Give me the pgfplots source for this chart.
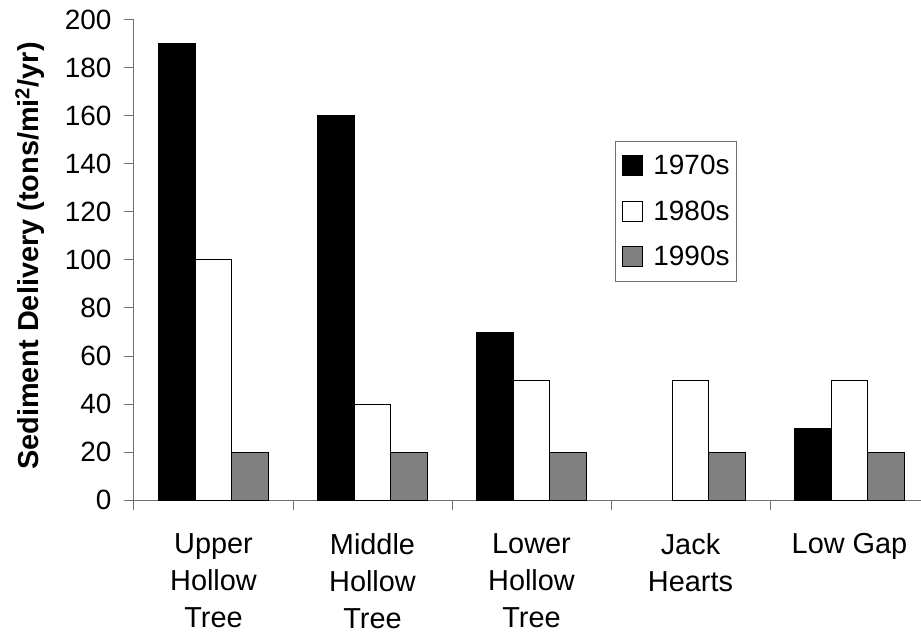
\documentclass[border=0pt]{standalone}
\usepackage{pgfplots}
\pgfplotsset{compat=1.18}
\usepackage{fontspec}
\setmainfont{Liberation Sans}
\definecolor{axgray}{HTML}{707070}
\definecolor{bargray}{HTML}{808080}
\begin{document}
\begin{tikzpicture}
\begin{axis}[
  name=ax,
  scale only axis,
  width=795bp, height=480bp,
  xmin=-0.5, xmax=4.5,
  ymin=0, ymax=200,
  axis x line*=bottom,
  axis y line*=left,
  axis line style={axgray, line width=1bp},
  tick style={axgray, line width=1bp},
  tick align=outside,
  major tick length=10bp,
  ytick={0,20,...,200},
  xtick={-0.5,0.5,1.5,2.5,3.5,4.5},
  x tick label as interval,
  xticklabels={Upper\\Hollow\\Tree, Middle\\Hollow\\Tree, Lower\\Hollow\\Tree, Jack\\Hearts, Low Gap},
  x tick label style={align=center, font=\fontsize{29}{37}\selectfont, yshift=-20bp},
  y tick label style={font=\fontsize{28}{34}\selectfont, xshift=-9bp},
  /pgf/number format/assume math mode=true,
  every axis y label/.style={at={(axis description cs:-0.131,0.508)}, rotate=90, anchor=center},
  ylabel={\bfseries\fontsize{29}{34}\selectfont Sediment Delivery (tons/mi\textsuperscript{2}/yr)},
  ybar=0pt,
  bar width=36.5bp,
  legend style={at={(0.605,0.748)}, anchor=north west, draw=axgray, line width=1bp,
    font=\fontsize{28}{34}\selectfont, inner xsep=7bp, inner ysep=14bp, row sep=24.5bp,
    nodes={inner sep=0pt}, column sep=10bp,
    cells={anchor=west}},
  every axis plot/.append style={legend image code/.code={\draw[#1, line width=1bp] (0bp,-10bp) rectangle (20bp,10bp);}},
]
\addplot[draw=black, fill=black, line width=1bp] coordinates {(0,190) (1,160) (2,70) (4,30)};
\addplot[draw=black, fill=white, line width=1bp] coordinates {(0,100) (1,40) (2,50) (3,50) (4,50)};
\addplot[draw=black, fill=bargray, line width=1bp] coordinates {(0,20) (1,20) (2,20) (3,20) (4,20)};
\legend{1970s,1980s,1990s}
\end{axis}
\pgfresetboundingbox
\useasboundingbox ([xshift=-134bp,yshift=-135bp]ax.south west) rectangle ([xshift=-8bp,yshift=20bp]ax.north east);
\end{tikzpicture}
\end{document}
